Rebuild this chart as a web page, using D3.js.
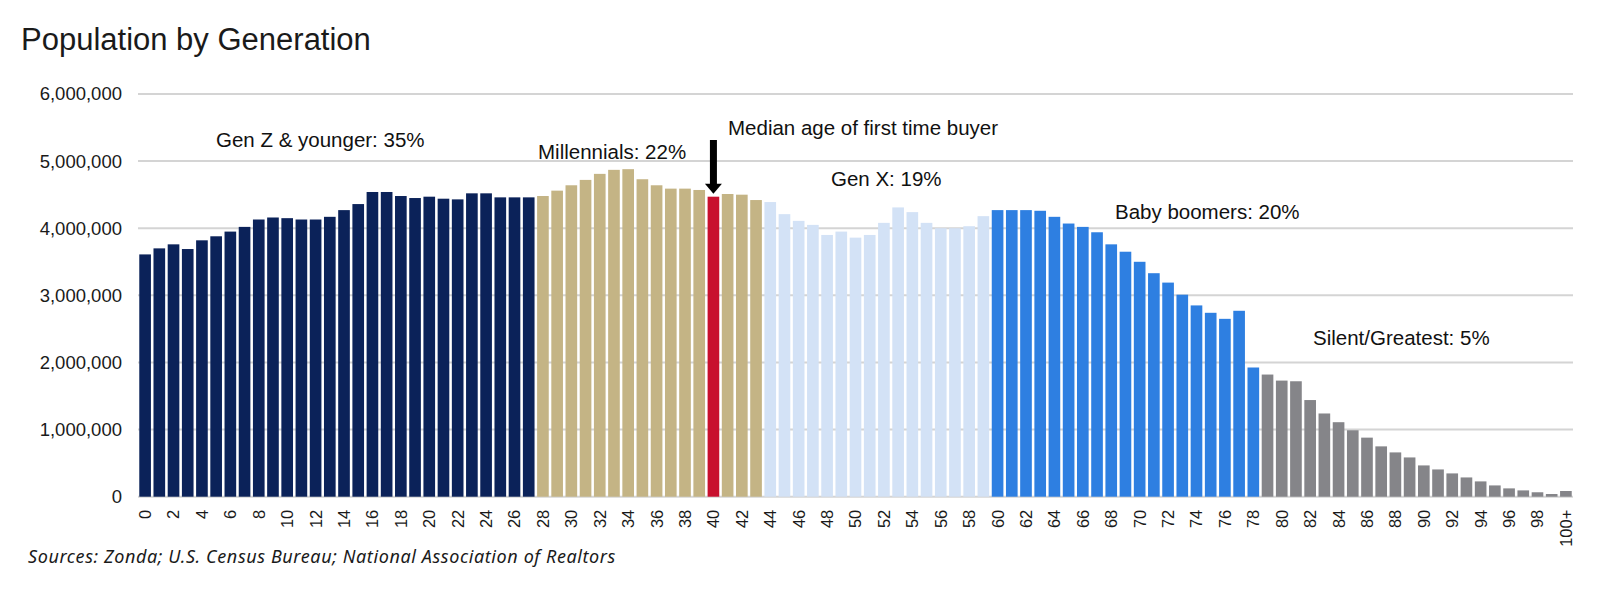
<!DOCTYPE html>
<html>
<head>
<meta charset="utf-8">
<script src="https://cdn.jsdelivr.net/npm/d3@7/dist/d3.min.js"></script>
<style>
  body { margin: 0; background: #fff; }
  svg { display: block; }
</style>
</head>
<body>
<div id="chart"></div>
<script>
// ages 0..99 plus "100+"
var ages = d3.range(0, 100).map(String).concat(["100+"]);

// population by single year of age (millions)
var population = [
  3.61, 3.70, 3.76, 3.69, 3.82, 3.88, 3.95, 4.02, 4.13, 4.16,
  4.15, 4.13, 4.13, 4.17, 4.27, 4.36, 4.54, 4.54, 4.48, 4.45,
  4.47, 4.44, 4.43, 4.52, 4.52, 4.46, 4.46, 4.46, 4.48, 4.56,
  4.64, 4.72, 4.81, 4.87, 4.88, 4.73, 4.64, 4.59, 4.59, 4.57,
  4.47, 4.51, 4.50, 4.42, 4.39, 4.21, 4.11, 4.05, 3.90, 3.95,
  3.86, 3.90, 4.08, 4.31, 4.24, 4.08, 4.00, 4.00, 4.03, 4.18,
  4.27, 4.27, 4.27, 4.26, 4.17, 4.07, 4.02, 3.94, 3.76, 3.65,
  3.50, 3.33, 3.19, 3.01, 2.85, 2.74, 2.65, 2.77, 1.925, 1.82,
  1.73, 1.72, 1.44, 1.24, 1.11, 0.99, 0.88, 0.75, 0.66, 0.585,
  0.466, 0.406, 0.347, 0.287, 0.228, 0.168, 0.124, 0.094, 0.066, 0.04,
  0.085
].map(function(v) { return v * 1e6; });

// generation groups: first age index of each group
var generations = ["Gen Z & younger", "Millennials", "Gen X", "Baby boomers", "Silent/Greatest"];
var genStart = [0, 28, 44, 60, 79];
var genColors = ["#0b2259", "#c4b485", "#d3e2f6", "#2e7fe1", "#858589"];
var medianAge = 40;
var medianColor = "#c8102e";

var yTicks = [0, 1000000, 2000000, 3000000, 4000000, 5000000, 6000000];
var xTickLabels = ages.filter(function(d, i) { return i % 2 == 0 || d == "100+"; });

var width = 1603, height = 591;
var margin = {left: 138, right: 30, top: 94, bottom: 94};

var svg = d3.select("#chart").append("svg")
  .attr("width", width)
  .attr("height", height);

var x = d3.scaleBand()
  .domain(ages)
  .range([margin.left, width - margin.right])
  .paddingInner(0.18)
  .paddingOuter(0.09);

var y = d3.scaleLinear()
  .domain([0, 6000000])
  .range([height - margin.bottom - 0.3, margin.top]);

function genOf(i) {
  var g = 0;
  for (var k = 0; k < genStart.length; k++) { if (i >= genStart[k]) g = k; }
  return g;
}

// title
svg.append("text")
  .attr("x", 21)
  .attr("y", 50)
  .style("font-family", "'Liberation Sans', Arial, sans-serif")
  .style("font-size", "31px")
  .style("fill", "#1a1a1a")
  .text("Population by Generation");

// gridlines
svg.append("g")
  .selectAll("line")
  .data(yTicks)
  .join("line")
  .attr("x1", margin.left)
  .attr("x2", width - margin.right)
  .attr("y1", function(d) { return y(d); })
  .attr("y2", function(d) { return y(d); })
  .style("stroke", "#d4d4d4")
  .style("stroke-width", 2);

// y axis labels
var yAxis = d3.axisLeft(y)
  .tickValues(yTicks)
  .tickFormat(d3.format(","))
  .tickSize(0)
  .tickPadding(16);

svg.append("g")
  .attr("transform", "translate(" + margin.left + ",0)")
  .call(yAxis)
  .call(function(g) { g.select(".domain").remove(); })
  .selectAll("text")
  .style("font-family", "'Liberation Sans', Arial, sans-serif")
  .style("font-size", "18.5px")
  .style("fill", "#1a1a1a");

// bars
svg.append("g")
  .selectAll("rect")
  .data(population)
  .join("rect")
  .attr("x", function(d, i) { return x(ages[i]); })
  .attr("width", x.bandwidth())
  .attr("y", function(d) { return y(d); })
  .attr("height", function(d) { return y(0) - y(d); })
  .style("fill", function(d, i) {
    if (i == medianAge) return medianColor;
    return genColors[genOf(i)];
  });

// x axis labels (rotated)
var xAxis = d3.axisBottom(x)
  .tickValues(xTickLabels)
  .tickSize(0)
  .tickPadding(0);

svg.append("g")
  .attr("transform", "translate(0," + y(0) + ")")
  .call(xAxis)
  .call(function(g) { g.select(".domain").remove(); })
  .selectAll("text")
  .attr("transform", "rotate(-90)")
  .attr("x", -13)
  .attr("y", 0)
  .attr("dy", "0.36em")
  .style("text-anchor", "end")
  .style("font-family", "'Liberation Sans', Arial, sans-serif")
  .style("font-size", "16.5px")
  .style("fill", "#1a1a1a");

// generation annotations
var genLabels = ["Gen Z & younger: 35%", "Millennials: 22%", "Gen X: 19%", "Baby boomers: 20%", "Silent/Greatest: 5%"];
var genLabelPos = [[216, 147], [538, 159], [831, 186], [1115, 219], [1313, 345]];

svg.append("g")
  .selectAll("text")
  .data(genLabels)
  .join("text")
  .attr("x", function(d, i) { return genLabelPos[i][0]; })
  .attr("y", function(d, i) { return genLabelPos[i][1]; })
  .style("font-family", "'Liberation Sans', Arial, sans-serif")
  .style("font-size", "20.5px")
  .style("fill", "#111")
  .text(function(d) { return d; });

// median first-time buyer arrow
var ax = x(String(medianAge)) + x.bandwidth() / 2;
var arrowTip = y(population[medianAge]) - 3;
svg.append("rect")
  .attr("x", ax - 3.5)
  .attr("y", 140)
  .attr("width", 7)
  .attr("height", arrowTip - 140 - 9)
  .style("fill", "#000");
svg.append("path")
  .attr("d", "M" + (ax - 8.5) + "," + (arrowTip - 10) + "L" + (ax + 8.5) + "," + (arrowTip - 10) + "L" + ax + "," + arrowTip + "Z")
  .style("fill", "#000");

svg.append("text")
  .attr("x", 728)
  .attr("y", 135)
  .style("font-family", "'Liberation Sans', Arial, sans-serif")
  .style("font-size", "20.5px")
  .style("fill", "#111")
  .text("Median age of first time buyer");

// source note
svg.append("text")
  .attr("x", 28)
  .attr("y", 563)
  .style("font-family", "'Noto Sans', sans-serif")
  .style("font-style", "italic")
  .style("font-size", "18px")
  .style("letter-spacing", "0.6px")
  .style("fill", "#1a1a1a")
  .text("Sources: Zonda; U.S. Census Bureau; National Association of Realtors");
</script>
</body>
</html>
